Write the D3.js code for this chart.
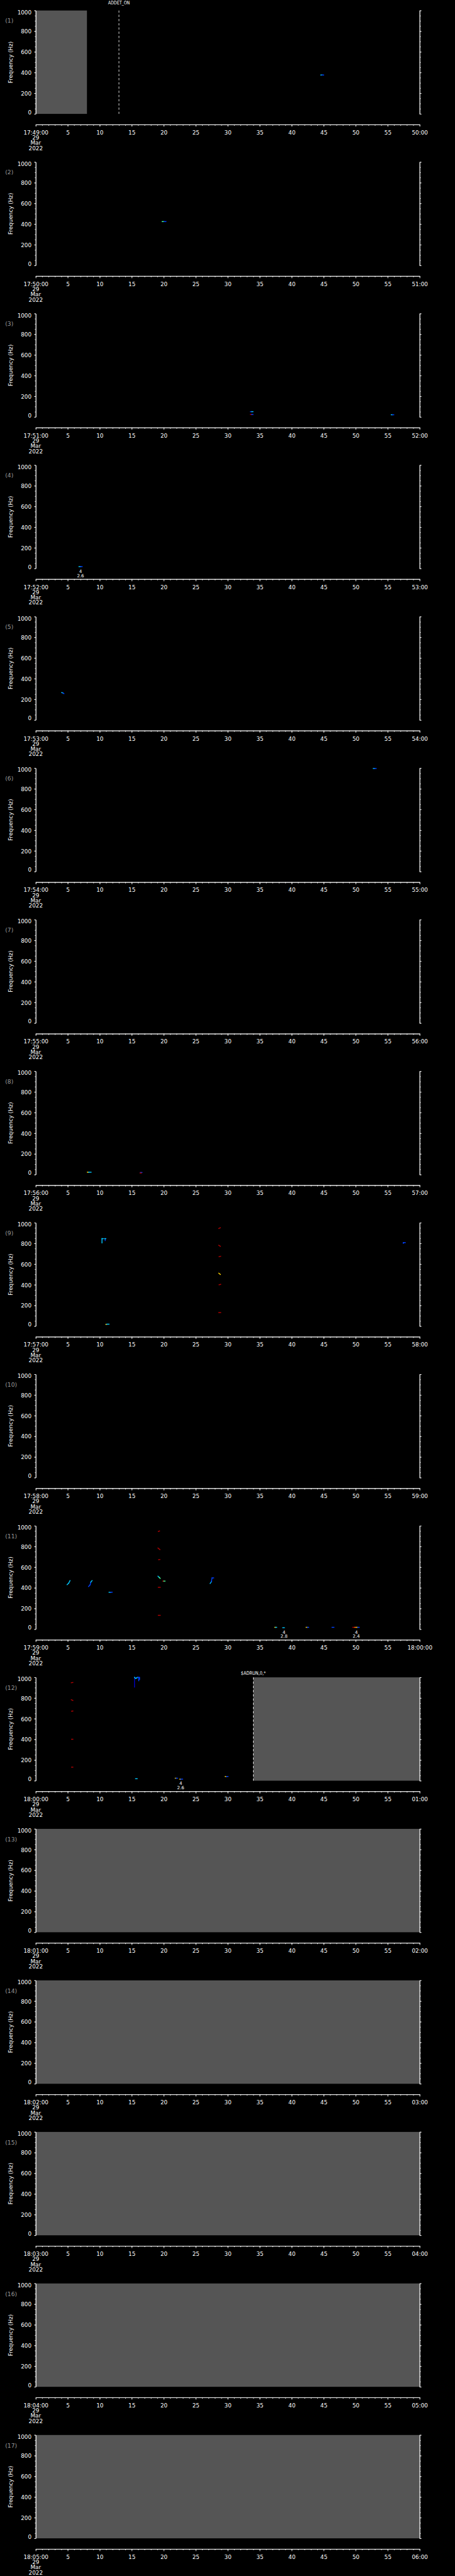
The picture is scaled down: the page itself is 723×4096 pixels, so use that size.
<!DOCTYPE html>
<html>
<head>
<meta charset="utf-8">
<script src="https://cdn.jsdelivr.net/npm/d3@7"></script>
<style>
  html, body { margin: 0; padding: 0; background: #000; overflow: hidden; }
  svg { display: block; }
  text { font-family: "DejaVu Sans", sans-serif; fill: #fff; }
</style>
</head>
<body>
<div id="root"></div>
<script>
// reference is 1024 x 5802, page is 723 x 4096 -> everything drawn in reference units, viewBox scales it
const REF_WIDTH = 1024
const REF_HEIGHT = 5802
const PAGE_WIDTH = 723
const PAGE_HEIGHT = 4096

const PANEL_COUNT = 17
const PANEL_HEIGHT = REF_HEIGHT / PANEL_COUNT
const PLOT_LEFT = 80.5
const PLOT_RIGHT = 944.5
const PLOT_TOP = 23.7
const PLOT_BOTTOM = 256.5
const AXIS_Y = 280.5
const FONT_SIZE = 12.5
const MARK_WIDTH = 2

// ---- data ----
const PANEL_STARTS = ['17:49:00', '17:50:00', '17:51:00', '17:52:00', '17:53:00', '17:54:00', '17:55:00',
  '17:56:00', '17:57:00', '17:58:00', '17:59:00', '18:00:00', '18:01:00', '18:02:00', '18:03:00',
  '18:04:00', '18:05:00']
const PANEL_ENDS = ['50:00', '51:00', '52:00', '53:00', '54:00', '55:00', '56:00', '57:00', '58:00',
  '59:00', '18:00:00', '01:00', '02:00', '03:00', '04:00', '05:00', '06:00']
const DATE_LINES = ['29', 'Mar', '2022']

const SECOND_TICKS = d3.range(0, 61, 5)
const SECOND_MINOR = d3.range(0, 61, 1)
const FREQ_TICKS = [0, 200, 400, 600, 800, 1000]
const FREQ_MINOR = d3.range(0, 1001, 50)

// no-data intervals [panel, from s, to s]
const GAPS = [
  [0, 0, 8],
  [11, 34, 60],
  [12, 0, 60],
  [13, 0, 60],
  [14, 0, 60],
  [15, 0, 60],
  [16, 0, 60]
]

// command markers [panel, second, label]
const EVENTS = [
  [0, 13, 'ADDET_ON'],
  [11, 34, '$ADRUN,0,*']
]
const EVENT_LABEL_RISE = [14, 5.5]

// spectrogram traces [panel, t0, f0, t1, f1, colour]
const MARKS = [
  [0, 44.55, 376, 44.75, 376, 'c'], [0, 44.75, 376, 45.0, 376, 'b'],
  [1, 19.75, 424, 20.05, 424, 'g'], [1, 20.05, 424, 20.35, 424, 'b'],
  [2, 33.55, 51, 33.75, 51, 'b'], [2, 33.75, 51, 33.95, 51, 'c'],
  [2, 33.55, 24, 33.75, 24, 'r'], [2, 33.75, 24, 33.95, 24, 'b'],
  [2, 55.55, 21, 55.75, 21, 'c'], [2, 55.75, 21, 55.95, 21, 'b'],
  [3, 6.75, 18, 7.0, 18, 'c'], [3, 7.0, 18, 7.25, 18, 'b'],
  [4, 4.05, 265, 4.25, 262, 'c'], [4, 4.25, 262, 4.4, 255, 'b'],
  [5, 52.75, 997, 52.95, 997, 'c'], [5, 52.95, 997, 53.2, 997, 'b'],
  [7, 8.05, 23, 8.25, 23, 'y'], [7, 8.25, 23, 8.65, 23, 'c'],
  [7, 16.35, 20, 16.6, 20, 'b'], [7, 16.3, 15, 16.5, 15, 'r'],
  [8, 10.35, 805, 10.35, 846, 'c'], [8, 10.35, 846, 10.55, 846, 'c'],
  [8, 10.85, 828, 10.85, 846, 'b'], [8, 10.75, 846, 10.95, 846, 'c'],
  [8, 28.6, 945, 28.85, 952, 'r'], [8, 28.6, 782, 28.85, 772, 'r'],
  [8, 28.65, 672, 28.9, 676, 'r'], [8, 28.6, 512, 28.85, 500, 'y'],
  [8, 28.65, 400, 28.9, 404, 'r'], [8, 28.6, 131, 28.9, 131, 'r'],
  [8, 57.45, 808, 57.75, 808, 'b'], [8, 57.45, 800, 57.45, 808, 'b'],
  [8, 10.95, 17, 11.1, 17, 'y'], [8, 11.1, 19, 11.45, 19, 'c'],
  [10, 19.15, 945, 19.35, 950, 'r'], [10, 19.1, 785, 19.4, 770, 'r'],
  [10, 19.2, 672, 19.4, 674, 'r'], [10, 19.1, 512, 19.3, 500, 'c'],
  [10, 19.3, 500, 19.45, 492, 'g'], [10, 19.85, 465, 20.0, 465, 'r'],
  [10, 20.0, 465, 20.2, 465, 'g'], [10, 19.15, 405, 19.45, 405, 'r'],
  [10, 19.15, 134, 19.45, 134, 'r'],
  [10, 4.9, 430, 5.15, 445, 'c'], [10, 5.15, 445, 5.35, 470, 'c'],
  [10, 8.25, 412, 8.5, 430, 'b'], [10, 8.5, 430, 8.6, 455, 'b'], [10, 8.6, 455, 8.8, 470, 'c'],
  [10, 11.45, 357, 11.7, 357, 'c'], [10, 11.7, 357, 11.95, 358, 'b'],
  [10, 27.25, 442, 27.45, 460, 'c'], [10, 27.45, 460, 27.55, 495, 'b'], [10, 27.55, 496, 27.8, 496, 'b'],
  [10, 37.35, 18, 37.5, 18, 'y'], [10, 37.5, 18, 37.65, 18, 'c'],
  [10, 38.6, 14, 38.85, 14, 'c'],
  [10, 42.25, 18, 42.45, 18, 'y'], [10, 42.45, 18, 42.65, 18, 'b'],
  [10, 46.3, 18, 46.6, 18, 'b'],
  [10, 49.55, 18, 49.85, 18, 'r'], [10, 49.85, 18, 50.1, 18, 'o'],
  [10, 50.1, 18, 50.3, 18, 'y'], [10, 50.3, 18, 50.55, 18, 'b'],
  [11, 5.55, 947, 5.8, 950, 'r'], [11, 5.55, 783, 5.8, 776, 'r'],
  [11, 5.6, 672, 5.8, 674, 'r'], [11, 5.6, 401, 5.8, 401, 'r'],
  [11, 5.6, 131, 5.8, 131, 'r'],
  [11, 15.43, 906, 15.43, 1000, 'db'], [11, 15.43, 1000, 15.6, 990, 'c'],
  [11, 15.6, 990, 15.8, 995, 'c'], [11, 15.8, 995, 15.9, 1000, 'c'],
  [11, 15.9, 1000, 16.1, 1000, 'b'], [11, 16.1, 1000, 16.1, 967, 'b'],
  [11, 16.22, 1000, 16.22, 980, 'b'],
  [11, 15.6, 19, 15.85, 19, 'c'],
  [11, 21.8, 24, 21.95, 24, 'y'], [11, 21.95, 24, 22.15, 24, 'b'],
  [11, 22.5, 15, 22.65, 15, 'y'], [11, 22.65, 15, 22.95, 15, 'b'],
  [11, 29.6, 41, 29.8, 41, 'y'], [11, 29.8, 41, 30.05, 41, 'b']
]

// small annotations under the axis [panel, second, line1, line2]
const NOTES = [
  [3, 7.0, '4', '2.6'],
  [10, 38.8, '4', '2.8'],
  [10, 50.1, '4', '2.4'],
  [11, 22.65, '4', '2.6']
]

const PALETTE = {
  db: '#0000c0',
  b: '#0040ff',
  c: '#00c8ff',
  g: '#40ff90',
  y: '#ffd200',
  o: '#ff7800',
  r: '#b40000'
}
const GAP_COLOR = '#555555'
const PANEL_LABEL_COLOR = '#9a9a9a'

// ---- scales ----
const xScale = d3.scaleLinear().domain([0, 60]).range([PLOT_LEFT, PLOT_RIGHT])
const yScale = d3.scaleLinear().domain([0, 1000]).range([PLOT_BOTTOM, PLOT_TOP])

const svg = d3.select('#root')
  .append('svg')
  .attr('width', PAGE_WIDTH)
  .attr('height', PAGE_HEIGHT)
  .attr('viewBox', `0 0 ${REF_WIDTH} ${REF_HEIGHT}`)
  .attr('preserveAspectRatio', 'none')

svg.append('rect')
  .attr('width', REF_WIDTH)
  .attr('height', REF_HEIGHT)
  .attr('fill', '#000')

const panels = svg.selectAll('.panel')
  .data(d3.range(PANEL_COUNT))
  .enter()
  .append('g')
  .attr('class', 'panel')
  .attr('transform', (i) => `translate(0, ${i * PANEL_HEIGHT})`)

panels.each(function (i) {
  const g = d3.select(this)

  // grey no-data blocks
  g.selectAll('.gap')
    .data(GAPS.filter(d => d[0] === i))
    .enter()
    .append('rect')
    .attr('class', 'gap')
    .attr('x', d => xScale(d[1]))
    .attr('width', d => xScale(d[2]) - xScale(d[1]))
    .attr('y', yScale(1000))
    .attr('height', yScale(0) - yScale(1000))
    .attr('fill', GAP_COLOR)

  g.selectAll('.mark')
    .data(MARKS.filter(d => d[0] === i))
    .enter()
    .append('line')
    .attr('class', 'mark')
    .attr('x1', d => xScale(d[1]))
    .attr('y1', d => yScale(d[2]))
    .attr('x2', d => xScale(d[3]))
    .attr('y2', d => yScale(d[4]))
    .attr('stroke', d => PALETTE[d[5]])
    .attr('stroke-width', MARK_WIDTH)
    .attr('stroke-linecap', 'square')

  // event markers
  EVENTS.forEach((ev, k) => {
    if (ev[0] !== i) return
    g.append('line')
      .attr('x1', xScale(ev[1]))
      .attr('x2', xScale(ev[1]))
      .attr('y1', yScale(1000))
      .attr('y2', yScale(0))
      .attr('stroke', '#fff')
      .attr('stroke-width', 1.2)
      .attr('stroke-dasharray', '5 4.5')
    g.append('text')
      .attr('x', xScale(ev[1]))
      .attr('y', yScale(1000) - EVENT_LABEL_RISE[k])
      .attr('text-anchor', 'middle')
      .attr('font-size', 11)
      .attr('textLength', k === 0 ? 49 : 56)
      .attr('lengthAdjust', 'spacingAndGlyphs')
      .text(ev[2])
  })

  // notes under the data
  g.selectAll('.note')
    .data(NOTES.filter(d => d[0] === i))
    .enter()
    .append('text')
    .attr('class', 'note')
    .attr('x', d => xScale(d[1]))
    .attr('y', yScale(0) + 10)
    .attr('text-anchor', 'middle')
    .attr('font-size', 10)
    .each(function (d) {
      d3.select(this).append('tspan').attr('x', xScale(d[1])).text(d[2])
      d3.select(this).append('tspan').attr('x', xScale(d[1])).attr('dy', 9.5).text(d[3])
    })

  // left frequency axis
  g.append('g')
    .attr('transform', `translate(${PLOT_LEFT}, 0)`)
    .call(d3.axisLeft(yScale).tickValues(FREQ_MINOR).tickSize(2.2).tickSizeOuter(0).tickFormat(''))
  const leftMajor = g.append('g')
    .attr('transform', `translate(${PLOT_LEFT}, 0)`)
    .call(d3.axisLeft(yScale)
      .tickValues(FREQ_TICKS)
      .tickSize(3.6)
      .tickSizeOuter(0)
      .tickPadding(6)
      .tickFormat(d3.format('d')))
  leftMajor.selectAll('text')
    .attr('font-size', FONT_SIZE)
    .attr('font-family', '"DejaVu Sans", sans-serif')
    .attr('fill', '#fff')
    .attr('y', d => d === 1000 ? 4 : d === 0 ? -3.6 : 0.7)

  // right frequency axis, ticks only
  g.append('g')
    .attr('transform', `translate(${PLOT_RIGHT}, 0)`)
    .call(d3.axisRight(yScale).tickValues(FREQ_MINOR).tickSize(2.6).tickSizeOuter(0).tickFormat(''))
  g.append('g')
    .attr('transform', `translate(${PLOT_RIGHT}, 0)`)
    .call(d3.axisRight(yScale).tickValues(FREQ_TICKS).tickSize(4.2).tickSizeOuter(0).tickFormat(''))

  // time axis
  g.append('g')
    .attr('transform', `translate(0, ${AXIS_Y})`)
    .call(d3.axisBottom(xScale).tickValues(SECOND_MINOR).tickSize(2.7).tickSizeOuter(0).tickFormat(''))
  const bottom = g.append('g')
    .attr('transform', `translate(0, ${AXIS_Y})`)
    .call(d3.axisBottom(xScale)
      .tickValues(SECOND_TICKS)
      .tickSize(4.8)
      .tickSizeOuter(0)
      .tickPadding(8.6)
      .tickFormat(s => s === 0 ? PANEL_STARTS[i] : s === 60 ? PANEL_ENDS[i] : String(s)))
  bottom.selectAll('text')
    .attr('font-size', FONT_SIZE)
    .attr('font-family', '"DejaVu Sans", sans-serif')
    .attr('fill', '#fff')

  g.selectAll('.date-line')
    .data(DATE_LINES)
    .enter()
    .append('text')
    .attr('class', 'date-line')
    .attr('x', xScale(0))
    .attr('y', (_, k) => AXIS_Y + 34 + k * 11.8)
    .attr('text-anchor', 'middle')
    .attr('font-size', FONT_SIZE)
    .text(d => d)

  // panel number + axis title
  g.append('text')
    .attr('x', 11.7)
    .attr('y', PLOT_TOP + 28)
    .attr('font-size', 13)
    .style('fill', PANEL_LABEL_COLOR)
    .text(`(${i + 1})`)

  g.append('text')
    .attr('transform', `translate(24, ${(PLOT_TOP + PLOT_BOTTOM) / 2}) rotate(-90)`)
    .attr('text-anchor', 'middle')
    .attr('dominant-baseline', 'central')
    .attr('font-size', FONT_SIZE)
    .text('Frequency (Hz)')
})

svg.selectAll('.domain, .tick line')
  .attr('stroke', '#fff')
  .attr('stroke-width', 1.2)
</script>
</body>
</html>
